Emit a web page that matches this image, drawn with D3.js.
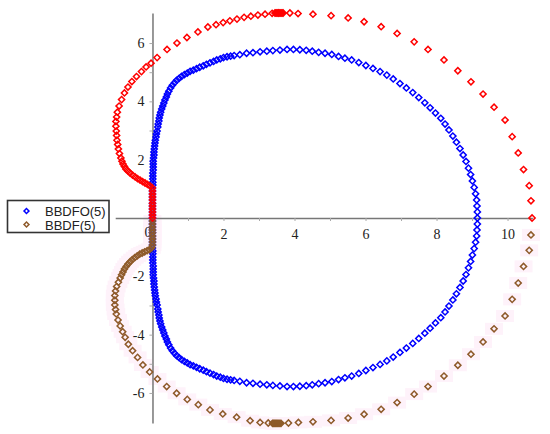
<!DOCTYPE html>
<html>
<head>
<meta charset="utf-8">
<script src="https://cdn.jsdelivr.net/npm/d3@7"></script>
<style>
  body { margin: 0; background: #fff; }
</style>
</head>
<body>
<div id="placeholder"></div>
<script>
// boundary points, [re, im]
var bbdfoUpper = [
  [0,0],[0,0.1],[0,0.21],[0,0.31],[0,0.41],[0,0.51],[0,0.62],[0,0.72],[0,0.82],[0,0.93],[0,1.03],
  [0.01,1.13],[0.01,1.23],[0.01,1.34],[0.01,1.44],[0.01,1.54],[0.02,1.65],[0.02,1.75],[0.02,1.85],[0.02,1.95],
  [0.03,2.06],[0.04,2.16],[0.04,2.26],[0.05,2.37],[0.06,2.47],[0.07,2.57],[0.08,2.67],[0.1,2.78],[0.11,2.88],[0.13,2.98],
  [0.15,3.12],[0.16,3.22],[0.18,3.33],[0.19,3.43],[0.21,3.53],[0.23,3.63],[0.26,3.74],[0.29,3.84],[0.32,3.94],[0.35,4.05],
  [0.39,4.15],[0.42,4.25],[0.46,4.35],[0.51,4.46],[0.56,4.55],[0.62,4.64],[0.68,4.72],[0.75,4.79],[0.82,4.86],[0.9,4.92],
  [0.98,4.97],[1.06,5.03],[1.15,5.07],[1.24,5.12],[1.33,5.17],[1.43,5.22],[1.52,5.27],[1.62,5.32],[1.72,5.37],[1.81,5.42],
  [1.91,5.46],[2.0,5.5],[2.1,5.53],[2.2,5.55],[2.3,5.57],
  [2.46,5.6],[2.65,5.65],[2.83,5.67],[3.03,5.7],[3.22,5.72],[3.39,5.74],[3.59,5.76],[3.79,5.78],[3.97,5.78],[4.15,5.77],
  [4.33,5.75],[4.5,5.72],[4.68,5.68],[4.86,5.65],[5.05,5.61],[5.24,5.54],[5.42,5.48],[5.61,5.42],[5.81,5.33],[6.01,5.23],
  [6.21,5.13],[6.41,5.02],[6.6,4.9],[6.78,4.77],[6.97,4.61],[7.15,4.46],[7.33,4.3],[7.5,4.13],[7.67,3.95],[7.82,3.78],
  [7.97,3.6],[8.12,3.42],[8.24,3.22],[8.35,3.02],[8.46,2.81],[8.56,2.6],[8.66,2.38],[8.75,2.16],[8.83,1.94],[8.9,1.71],
  [8.96,1.49],[9.01,1.27],[9.06,1.05],[9.1,0.83],[9.13,0.62],[9.14,0.41],[9.15,0.21],[9.15,0]
];
var bbdfoLower = [
  [0,-0.1],[0,-0.21],[0,-0.31],[0,-0.41],[0,-0.51],[0,-0.62],[0,-0.72],[0,-0.82],[0,-0.93],[0,-1.03],
  [0.01,-1.13],[0.01,-1.23],[0.01,-1.34],[0.01,-1.44],[0.01,-1.54],[0.02,-1.65],[0.02,-1.75],[0.02,-1.85],[0.02,-1.95],
  [0.03,-2.06],[0.04,-2.16],[0.04,-2.26],[0.05,-2.37],[0.06,-2.47],[0.07,-2.57],[0.08,-2.67],[0.1,-2.78],[0.11,-2.88],[0.13,-2.98],
  [0.15,-3.12],[0.16,-3.22],[0.18,-3.33],[0.19,-3.43],[0.21,-3.53],[0.23,-3.63],[0.26,-3.74],[0.29,-3.84],[0.32,-3.94],[0.35,-4.05],
  [0.39,-4.15],[0.42,-4.25],[0.46,-4.35],[0.51,-4.46],[0.56,-4.55],[0.62,-4.64],[0.68,-4.72],[0.75,-4.79],[0.82,-4.86],[0.9,-4.92],
  [0.98,-4.97],[1.06,-5.03],[1.15,-5.07],[1.24,-5.12],[1.33,-5.17],[1.43,-5.22],[1.52,-5.27],[1.62,-5.32],[1.72,-5.37],[1.81,-5.42],
  [1.91,-5.46],[2.0,-5.5],[2.1,-5.53],[2.2,-5.55],[2.3,-5.57],
  [2.46,-5.6],[2.65,-5.65],[2.83,-5.67],[3.03,-5.7],[3.22,-5.72],[3.39,-5.74],[3.59,-5.76],[3.79,-5.78],[3.97,-5.78],[4.15,-5.77],
  [4.33,-5.75],[4.5,-5.72],[4.68,-5.68],[4.86,-5.65],[5.05,-5.61],[5.24,-5.54],[5.42,-5.48],[5.61,-5.42],[5.81,-5.33],[6.01,-5.23],
  [6.21,-5.13],[6.41,-5.02],[6.6,-4.9],[6.78,-4.77],[6.97,-4.61],[7.15,-4.46],[7.33,-4.3],[7.5,-4.13],[7.67,-3.95],[7.82,-3.78],
  [7.97,-3.6],[8.12,-3.42],[8.24,-3.22],[8.35,-3.02],[8.46,-2.81],[8.56,-2.6],[8.66,-2.38],[8.75,-2.16],[8.83,-1.94],[8.9,-1.71],
  [8.96,-1.49],[9.01,-1.27],[9.06,-1.05],[9.1,-0.83],[9.13,-0.62],[9.14,-0.41],[9.15,-0.21]
];
var bbdfUpper = [
  [0,0],[0,0.1],[0,0.21],[0,0.31],[0,0.41],[0,0.51],[0,0.62],[0,0.72],[0,0.82],[0,0.93],[0,1.03],
  [-0.07,1.1],[-0.14,1.15],[-0.21,1.2],[-0.28,1.25],[-0.35,1.3],[-0.42,1.35],[-0.49,1.41],[-0.56,1.47],[-0.63,1.54],
  [-0.69,1.61],[-0.75,1.68],[-0.79,1.77],[-0.83,1.85],[-0.86,1.95],[-0.89,2.06],[-0.93,2.21],[-0.96,2.37],[-0.98,2.52],
  [-1.0,2.67],[-1.01,2.83],[-1.02,2.98],[-1.03,3.15],[-1.03,3.31],
  [-1.01,3.46],[-0.99,3.63],[-0.94,3.84],[-0.87,4.06],[-0.79,4.29],[-0.69,4.49],[-0.58,4.68],[-0.45,4.85],[-0.31,5.02],
  [-0.18,5.18],[-0.04,5.31],[0.13,5.5],[0.41,5.78],[0.69,6.0],[0.97,6.19],[1.28,6.38],[1.56,6.55],[1.79,6.63],[1.99,6.7],
  [2.18,6.76],[2.38,6.82],[2.58,6.88],[2.77,6.92],[2.97,6.96],[3.17,6.99],[3.37,7.02],
  [3.45,7.03],[3.48,7.03],[3.51,7.03],[3.54,7.03],[3.56,7.03],[3.59,7.03],[3.62,7.03],[3.65,7.03],[3.68,7.03],
  [3.87,7.03],[4.1,7.01],[4.52,6.99],[5.03,6.94],[5.51,6.86],[5.96,6.73],[6.44,6.56],[6.89,6.33],[7.37,6.04],[7.76,5.78],
  [8.21,5.42],[8.6,5.05],[8.97,4.67],[9.31,4.25],[9.62,3.8],[9.93,3.36],[10.13,2.79],[10.3,2.23],[10.45,1.66],
  [10.61,1.11],[10.66,0.59],[10.69,0]
];
var bbdfLower = [
  [0,-0.1],[0,-0.21],[0,-0.31],[0,-0.41],[0,-0.51],[0,-0.62],[0,-0.72],[0,-0.82],[0,-0.93],[-0.02,-1.02],
  [-0.08,-1.08],[-0.15,-1.12],[-0.22,-1.16],[-0.29,-1.2],[-0.36,-1.24],[-0.43,-1.3],[-0.5,-1.36],[-0.57,-1.43],[-0.63,-1.5],
  [-0.69,-1.58],[-0.74,-1.66],[-0.79,-1.75],[-0.83,-1.85],[-0.87,-1.95],[-0.91,-2.06],[-0.96,-2.2],[-1.01,-2.35],[-1.04,-2.5],
  [-1.06,-2.66],[-1.06,-2.82],[-1.06,-2.98],[-1.04,-3.14],[-1.02,-3.29],
  [-0.97,-3.5],[-0.91,-3.7],[-0.84,-3.9],[-0.77,-4.09],[-0.68,-4.33],[-0.56,-4.55],[-0.42,-4.78],[-0.27,-5.04],[-0.08,-5.28],
  [0.14,-5.52],[0.4,-5.78],[0.68,-6.01],[0.98,-6.22],[1.29,-6.4],[1.62,-6.58],[1.98,-6.72],[2.37,-6.83],[2.75,-6.95],
  [3.03,-7.01],[3.26,-7.03],
  [3.38,-7.04],[3.41,-7.04],[3.44,-7.04],[3.47,-7.04],[3.5,-7.04],[3.53,-7.04],[3.56,-7.04],[3.59,-7.04],[3.62,-7.04],
  [3.83,-7.03],[4.11,-7.01],[4.52,-6.99],[5.03,-6.94],[5.51,-6.86],[5.96,-6.73],[6.44,-6.56],[6.89,-6.33],[7.37,-6.04],
  [7.76,-5.78],[8.21,-5.42],[8.6,-5.05],[8.97,-4.67],[9.31,-4.25],[9.62,-3.8],[9.93,-3.36],[10.13,-2.79],[10.3,-2.23],
  [10.45,-1.66],[10.61,-1.11],[10.66,-0.58]
];

var xTicks = [0,1,2,3,4,5,6,7,8,9,10];
var yTicks = [-6,-5,-4,-3,-2,-1,1,2,3,4,5,6];
var legendLabels = ["BBDFO(5)", "BBDF(5)"];

var width = 550;
var height = 434;

var blue = "#0000ff", red = "#ff0000", brown = "#8e5a2a";

var svg = d3.select("#placeholder")
  .append("svg")
  .attr("width", width)
  .attr("height", height);

var x = d3.scaleLinear().domain([-1.05, 10.7]).range([115.2, 532.4]);
var y = d3.scaleLinear().domain([-7.03, 7.03]).range([423, 13]);

// faint pink smear behind the brown points (as in the scanned figure)
svg.append("g")
  .selectAll("rect")
  .data(bbdfLower)
  .enter()
  .append("rect")
    .attr("x", function(d) { return x(d[0]) - 9; })
    .attr("y", function(d) { return y(d[1]) - 6; })
    .attr("width", 18)
    .attr("height", 12)
    .attr("fill", "#fef2fa");

// x axis through the origin
var xAxis = svg.append("g")
  .attr("transform", "translate(0," + y(0) + ")")
  .call(d3.axisBottom(x)
    .tickValues(xTicks)
    .tickSize(3)
    .tickSizeOuter(0)
    .tickPadding(8)
    .tickFormat(function(d) { return d % 2 === 0 ? d : ""; }));

// y axis through the origin
var yAxis = svg.append("g")
  .attr("transform", "translate(" + x(0) + ",0)")
  .call(d3.axisLeft(y)
    .tickValues(yTicks)
    .tickSize(3)
    .tickSizeOuter(0)
    .tickPadding(5)
    .tickFormat(function(d) { return d % 2 === 0 ? d : ""; }));

[xAxis, yAxis].forEach(function(ax) {
  ax.attr("font-family", null).attr("font-size", null);
  ax.select(".domain").attr("stroke", "#777").attr("stroke-width", 1.5);
  ax.selectAll(".tick line").attr("stroke", "#aaa");
  ax.selectAll(".tick text")
    .style("font-family", "'Liberation Serif', 'Times New Roman', serif")
    .style("font-size", "14px")
    .attr("fill", "#222");
});
xAxis.selectAll(".tick")
  .filter(function(d) { return d === 0; })
  .select("text")
  .attr("dx", -5)
  .attr("y", 9);

// hollow diamonds
var diamond = d3.symbol().type(d3.symbolSquare).size(19);

function drawPoints(data, color) {
  svg.append("g")
    .selectAll("path")
    .data(data)
    .enter()
    .append("path")
      .attr("d", diamond)
      .attr("transform", function(d) { return "translate(" + x(d[0]) + "," + y(d[1]) + ") rotate(45)"; })
      .attr("fill", "none")
      .attr("stroke", color)
      .attr("stroke-width", 1.5);
}

drawPoints(bbdfoUpper, blue);
drawPoints(bbdfoLower, blue);
drawPoints(bbdfLower, brown);
drawPoints(bbdfUpper, red);

// legend
var legend = svg.append("g").attr("transform", "translate(7.5,200.5)");
legend.append("rect")
  .attr("width", 101.5)
  .attr("height", 32)
  .attr("fill", "#fff")
  .attr("stroke", "#333")
  .attr("stroke-width", 1.6);

var legendColors = [blue, brown];
var items = legend.selectAll(".item")
  .data(legendLabels)
  .enter()
  .append("g")
    .attr("transform", function(d, i) { return "translate(19," + (10.5 + i * 13.5) + ")"; });

items.append("path")
  .attr("d", d3.symbol().type(d3.symbolSquare).size(12))
  .attr("transform", "rotate(45)")
  .attr("fill", "none")
  .attr("stroke", function(d, i) { return legendColors[i]; })
  .attr("stroke-width", 1.5);

items.append("text")
  .attr("x", 18.5)
  .attr("y", 5)
  .style("font-family", "'Liberation Sans', Arial, sans-serif")
  .style("font-size", "13px")
  .attr("fill", "#222")
  .text(function(d) { return d; });
</script>
</body>
</html>
